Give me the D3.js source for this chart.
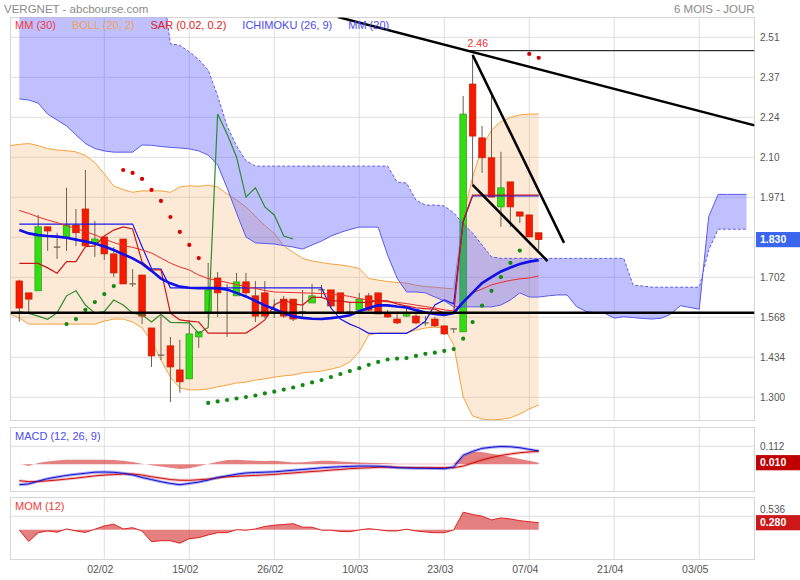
<!DOCTYPE html>
<html><head><meta charset="utf-8">
<script src="https://cdn.jsdelivr.net/npm/d3@7"></script>
<style>body{margin:0;background:#fff}svg{display:block;font-family:"Liberation Sans",Arial,sans-serif}</style>
</head><body><svg id="c" width="800" height="580"></svg>
<script>
// ---------- DATA ----------
const dateLabels = ["02/02","15/02","26/02","10/03","23/03","07/04","21/04","03/05"];
const dateIdx = [9,18,27,36,45,54,63,72];
const yTickValues = [1.3,1.4344,1.5689,1.7033,1.9722,2.1067,2.2411,2.3756,2.51];
const yTickLabels = ["1.300","1.434","1.568","1.702","1.971","2.10","2.24","2.37","2.51"];
const legendItems = [["MM (30)","#f23c3c"],["BOLL (20, 2)","#f0a050"],["SAR (0.02, 0.2)","#dd2222"],["ICHIMOKU (26, 9)","#4a4aee"],["MM (20)","#4a4aee"]];

const openP  = [1.691,1.651,1.658,1.873,1.805,1.839,1.879,1.933,1.819,1.839,1.782,1.832,1.681,1.711,1.533,1.442,1.473,1.392,1.362,1.503,1.587,1.701,1.583,1.641,1.688,1.641,1.651,1.587,1.630,1.630,1.587,1.617,1.661,1.661,1.651,1.587,1.593,1.641,1.651,1.583,1.563,1.573,1.573,1.550,1.563,1.540,1.530,1.520,2.353,2.172,2.105,1.940,2.024,1.923,1.913,1.853];
const highP  = [1.695,1.651,1.913,1.873,1.853,2.004,1.933,2.064,1.893,1.839,1.805,1.832,1.731,1.711,1.533,1.583,1.503,1.493,1.560,1.520,1.752,1.721,1.681,1.718,1.718,1.691,1.691,1.630,1.641,1.630,1.661,1.681,1.678,1.661,1.651,1.617,1.651,1.651,1.651,1.593,1.587,1.604,1.583,1.573,1.570,1.540,1.530,2.313,2.451,2.212,2.323,2.125,2.024,1.923,1.913,1.853];
const lowP   = [1.554,1.583,1.658,1.792,1.765,1.792,1.808,1.809,1.772,1.762,1.704,1.681,1.671,1.546,1.402,1.425,1.284,1.315,1.362,1.466,1.567,1.570,1.503,1.641,1.638,1.553,1.567,1.567,1.567,1.556,1.570,1.617,1.637,1.600,1.580,1.580,1.593,1.590,1.580,1.567,1.546,1.570,1.546,1.540,1.536,1.510,1.516,1.520,2.014,2.054,1.973,1.873,1.873,1.886,1.839,1.795];
const closeP = [1.600,1.630,1.873,1.859,1.805,1.879,1.853,1.809,1.832,1.782,1.718,1.681,1.681,1.573,1.439,1.442,1.402,1.352,1.513,1.520,1.661,1.651,1.583,1.688,1.651,1.573,1.573,1.587,1.573,1.563,1.587,1.641,1.661,1.607,1.583,1.587,1.630,1.593,1.580,1.570,1.550,1.583,1.550,1.550,1.540,1.513,1.530,2.252,2.178,2.105,1.973,2.004,1.940,1.909,1.839,1.830];

const mm30 = [1.928,1.918,1.906,1.896,1.887,1.877,1.867,1.857,1.846,1.832,1.820,1.810,1.804,1.795,1.785,1.768,1.751,1.738,1.728,1.711,1.699,1.693,1.686,1.679,1.672,1.666,1.659,1.654,1.653,1.652,1.651,1.650,1.649,1.646,1.644,1.639,1.632,1.626,1.624,1.621,1.619,1.615,1.610,1.605,1.600,1.594,1.590,1.620,1.651,1.664,1.678,1.686,1.693,1.698,1.701,1.708];
const mm20 = [1.862,1.851,1.845,1.842,1.840,1.836,1.830,1.824,1.817,1.807,1.795,1.781,1.767,1.749,1.725,1.699,1.683,1.672,1.668,1.667,1.667,1.667,1.662,1.651,1.639,1.624,1.609,1.597,1.583,1.572,1.567,1.564,1.563,1.566,1.570,1.576,1.589,1.600,1.609,1.609,1.605,1.602,1.593,1.585,1.580,1.577,1.583,1.620,1.652,1.684,1.704,1.723,1.736,1.748,1.756,1.761];
// Bollinger bands start one period before the first candle
const bollUp  = [2.146,2.150,2.153,2.146,2.136,2.131,2.129,2.125,2.113,2.089,2.051,2.010,1.998,1.989,1.994,1.994,1.994,1.989,2.007,2.011,2.009,2.013,2.007,1.984,1.963,1.940,1.909,1.877,1.851,1.809,1.787,1.767,1.758,1.753,1.748,1.745,1.740,1.733,1.699,1.694,1.689,1.686,1.684,1.677,1.672,1.670,1.667,1.664,1.906,2.040,2.141,2.198,2.226,2.241,2.249,2.252,2.252];
const bollLow = [1.580,1.567,1.546,1.546,1.546,1.546,1.546,1.546,1.546,1.546,1.556,1.563,1.563,1.553,1.533,1.489,1.425,1.368,1.331,1.325,1.325,1.328,1.335,1.341,1.348,1.351,1.358,1.362,1.368,1.372,1.375,1.382,1.385,1.388,1.395,1.402,1.419,1.453,1.509,1.516,1.516,1.516,1.516,1.526,1.533,1.536,1.533,1.476,1.301,1.237,1.227,1.224,1.226,1.231,1.244,1.261,1.274];

const tenkan = [1.750,1.750,1.750,1.735,1.717,1.756,1.756,1.806,1.809,1.842,1.862,1.873,1.866,1.755,1.728,1.728,1.583,1.560,1.556,1.553,1.516,1.516,1.516,1.516,1.516,1.536,1.560,1.610,1.627,1.614,1.610,1.636,1.636,1.624,1.624,1.619,1.619,1.619,1.625,1.624,1.614,1.607,1.601,1.598,1.596,1.583,1.583,1.894,1.980,1.980,1.980,1.980,1.980,1.980,1.980,1.980];
const kijun  = [1.882,1.882,1.882,1.882,1.882,1.882,1.882,1.882,1.882,1.882,1.882,1.882,1.882,1.806,1.733,1.731,1.668,1.668,1.668,1.668,1.668,1.668,1.668,1.668,1.668,1.668,1.668,1.668,1.668,1.668,1.668,1.668,1.668,1.600,1.563,1.546,1.533,1.515,1.515,1.515,1.515,1.515,1.533,1.556,1.610,1.627,1.614,1.890,1.977,1.977,1.977,1.977,1.977,1.977,1.977,1.977];
const chikou = [1.588,1.582,1.573,1.562,1.584,1.641,1.658,1.610,1.583,1.588,1.627,1.610,1.583,1.577,1.553,1.579,1.552,1.551,1.550,1.515,1.535,2.252,2.185,2.108,1.973,2.004,1.940,1.913,1.842,1.832];
const senkouA = [2.303,2.299,2.289,2.252,2.232,2.212,2.182,2.153,2.136,2.128,2.124,2.124,2.124,2.148,2.147,2.143,2.140,2.138,2.135,2.128,2.114,2.081,2.004,1.920,1.839,1.819,1.817,1.815,1.810,1.805,1.798,1.812,1.825,1.842,1.854,1.864,1.872,1.872,1.872,1.778,1.701,1.654,1.654,1.651,1.637,1.624,1.604,1.604,1.604,1.604,1.604,1.610,1.627,1.651,1.637,1.637,1.641,1.644,1.644,1.605,1.589,1.583,1.582,1.566,1.571,1.568,1.565,1.563,1.566,1.580,1.608,1.602,1.596,1.907,1.982,1.982,1.982,1.982];
const senkouB = [2.72,2.72,2.72,2.72,2.72,2.72,2.72,2.72,2.72,2.72,2.72,2.72,2.72,2.72,2.72,2.72,2.488,2.483,2.461,2.435,2.400,2.313,2.212,2.145,2.095,2.077,2.077,2.077,2.077,2.077,2.077,2.077,2.077,2.077,2.077,2.077,2.077,2.077,2.077,2.077,2.024,2.020,1.963,1.946,1.946,1.943,1.920,1.883,1.852,1.812,1.772,1.767,1.767,1.767,1.767,1.767,1.767,1.767,1.767,1.767,1.767,1.767,1.767,1.767,1.767,1.677,1.674,1.670,1.670,1.670,1.670,1.670,1.670,1.795,1.865,1.865,1.865,1.865];
const sar = [null,null,null,null,null,1.546,1.563,1.594,1.620,1.647,1.674,2.064,2.054,2.034,1.997,1.960,1.906,1.856,1.812,1.768,1.281,1.286,1.291,1.296,1.301,1.306,1.313,1.319,1.326,1.333,1.341,1.350,1.358,1.368,1.378,1.388,1.398,1.409,1.419,1.427,1.430,1.432,1.439,1.446,1.450,1.456,1.462,1.497,1.553,1.608,1.658,1.704,1.752,1.793,2.454,2.441];

const macd   = [-0.127,-0.122,-0.105,-0.089,-0.079,-0.069,-0.062,-0.056,-0.049,-0.048,-0.050,-0.056,-0.066,-0.082,-0.095,-0.108,-0.119,-0.127,-0.119,-0.111,-0.098,-0.082,-0.072,-0.062,-0.054,-0.051,-0.049,-0.047,-0.042,-0.037,-0.032,-0.027,-0.022,-0.018,-0.015,-0.013,-0.011,-0.011,-0.012,-0.016,-0.021,-0.023,-0.024,-0.025,-0.026,-0.027,-0.017,0.056,0.080,0.099,0.106,0.111,0.109,0.103,0.093,0.083];
const signal = [-0.102,-0.108,-0.107,-0.103,-0.098,-0.092,-0.086,-0.079,-0.072,-0.067,-0.064,-0.061,-0.060,-0.067,-0.077,-0.086,-0.095,-0.099,-0.100,-0.096,-0.092,-0.085,-0.078,-0.075,-0.072,-0.069,-0.066,-0.063,-0.058,-0.054,-0.049,-0.045,-0.041,-0.036,-0.032,-0.027,-0.024,-0.022,-0.019,-0.017,-0.018,-0.020,-0.021,-0.021,-0.021,-0.021,-0.021,-0.011,0.008,0.027,0.042,0.055,0.064,0.072,0.077,0.081];
const hist   = [0.004,-0.010,0.008,0.018,0.024,0.028,0.028,0.029,0.029,0.029,0.027,0.022,0.014,0.004,-0.006,-0.014,-0.022,-0.030,-0.024,-0.012,0.002,0.016,0.026,0.028,0.025,0.022,0.021,0.022,0.018,0.011,0.012,0.018,0.022,0.022,0.018,0.014,0.011,0.010,0.008,0.006,0.004,0.004,0.003,0.003,0.003,0.003,0.004,0.050,0.078,0.076,0.066,0.056,0.046,0.033,0.022,0.010];
const mom    = [-0.01,-0.47,-0.12,-0.05,-0.10,0.03,-0.05,-0.11,0.02,0.15,0.22,0.03,0.08,-0.05,-0.48,-0.44,-0.44,-0.54,-0.36,-0.32,-0.21,-0.12,-0.12,0.00,-0.02,0.03,0.13,0.18,0.21,0.24,0.10,0.10,-0.02,-0.02,-0.07,-0.08,-0.01,0.04,0.00,-0.05,-0.05,0.02,-0.05,-0.09,-0.12,-0.12,-0.01,0.70,0.61,0.54,0.39,0.47,0.43,0.36,0.32,0.28];

// annotations (index, price)
const trendLines = [[33.75,2.578,77.85,2.214],[48,2.451,57.68,1.819],[48,2.014,55.93,1.758]];
const resistance = 2.465, support = 1.584;
const lastPrice = 1.830, lastHist = 0.010, lastMom = 0.280;
const macdRef = 0.112, momRef = 0.536;

// ---------- CHART ----------
const svg = d3.select("#c");
const L = 10.5, R = 754.5;
const P = {main:[17.5,420.5], macd:[427.5,491.5], mom:[497.5,559.5]};
const x = d3.scaleLinear().domain([-0.932,77.85]).range([L,R]);
const y = d3.scaleLinear().domain([1.3,2.51]).range([397.3,37.3]);
const yM = d3.scaleLinear().domain([0,0.112]).range([464.3,446.3]);
const yO = d3.scaleLinear().domain([0,0.536]).range([529.7,516.3]);
const grid = "#dedede";

const defs = svg.append("defs");
Object.entries(P).forEach(([k,[t,b]])=>{
  defs.append("clipPath").attr("id","clip-"+k).append("rect").attr("x",L).attr("y",t).attr("width",R-L).attr("height",b-t);
});

// titles
svg.append("text").attr("x",4).attr("y",12.5).attr("font-size",11.5).attr("fill","#8a8a8a").text("VERGNET - abcbourse.com");
svg.append("text").attr("x",R).attr("y",12.5).attr("text-anchor","end").attr("font-size",11.5).attr("fill","#8a8a8a").text("6 MOIS - JOUR");

// grids + borders
Object.entries(P).forEach(([k,[t,b]])=>{
  const g = svg.append("g");
  g.selectAll("line.v").data(dateIdx).join("line").attr("x1",d=>x(d)).attr("x2",d=>x(d)).attr("y1",t).attr("y2",b).attr("stroke",grid);
  let hv = k==="main" ? yTickValues.concat([1.8378]).map(v=>y(v)) : k==="macd" ? [yM(macdRef)] : [yO(momRef)];
  g.selectAll("line.h").data(hv).join("line").attr("x1",L).attr("x2",R).attr("y1",d=>d).attr("y2",d=>d).attr("stroke",grid);
  g.append("rect").attr("x",L).attr("y",t).attr("width",R-L).attr("height",b-t).attr("fill","none").attr("stroke","#d6d6d6");
});

// ---- main panel ----
const gm = svg.append("g").attr("clip-path","url(#clip-main)");
const idx = d3.range(56);
gm.append("path").datum(bollUp).attr("fill","rgba(245,170,90,0.25)")
  .attr("d", d3.area().x((d,k)=>x(k-1)).y0((d,k)=>y(bollLow[k])).y1(d=>y(d)));
const lineIdx = (arr,off=0)=>d3.line().x((d,k)=>x(k+off)).y(d=>y(d))(arr);
gm.append("path").attr("d",lineIdx(bollUp,-1)).attr("fill","none").attr("stroke","#f5a23e").attr("stroke-width",1);
gm.append("path").attr("d",lineIdx(bollLow,-1)).attr("fill","none").attr("stroke","#f5a23e").attr("stroke-width",1);

// candles
const candles = idx.map(i=>({i,o:openP[i],h:highP[i],l:lowP[i],c:closeP[i]}));
const cw = 6.6;
gm.selectAll("line.wick").data(candles).join("line").attr("class","wick")
  .attr("x1",d=>x(d.i)).attr("x2",d=>x(d.i)).attr("y1",d=>y(d.h)).attr("y2",d=>y(d.l))
  .attr("stroke","#6e6050").attr("stroke-width",1);
gm.selectAll("rect.body").data(candles.filter(d=>d.o!==d.c)).join("rect").attr("class","body")
  .attr("x",d=>x(d.i)-cw/2).attr("width",cw)
  .attr("y",d=>y(Math.max(d.o,d.c))).attr("height",d=>Math.max(1,Math.abs(y(d.o)-y(d.c))))
  .attr("fill",d=>d.c>d.o?"#33dd11":"#f51a00").attr("stroke",d=>d.c>d.o?"#2a9a1a":"#c02000").attr("stroke-width",0.7);
gm.selectAll("line.doji").data(candles.filter(d=>d.o===d.c)).join("line").attr("class","doji")
  .attr("x1",d=>x(d.i)-cw/2).attr("x2",d=>x(d.i)+cw/2).attr("y1",d=>y(d.o)).attr("y2",d=>y(d.o))
  .attr("stroke","#6e6050").attr("stroke-width",1.2);

// ichimoku cloud
const cIdx = d3.range(senkouA.length);
gm.append("path").datum(cIdx).attr("fill","rgba(80,80,255,0.36)")
  .attr("d", d3.area().x(i=>x(i)).y0(i=>y(senkouA[i])).y1(i=>y(senkouB[i])));
gm.append("path").attr("d",lineIdx(senkouA)).attr("fill","none").attr("stroke","#5a5aee").attr("stroke-width",1);
gm.append("path").attr("d",lineIdx(senkouB)).attr("fill","none").attr("stroke","#5a5aee").attr("stroke-width",1).attr("stroke-dasharray","3,2");

// lines
gm.append("path").attr("d",lineIdx(chikou)).attr("fill","none").attr("stroke","#2e8b2e").attr("stroke-width",1.2);
gm.append("path").attr("d",lineIdx(kijun)).attr("fill","none").attr("stroke","#1a1aee").attr("stroke-width",1.2);
gm.append("path").attr("d",lineIdx(mm30)).attr("fill","none").attr("stroke","#ee2a2a").attr("stroke-width",1);
gm.append("path").attr("d",lineIdx(tenkan)).attr("fill","none").attr("stroke","#cc1818").attr("stroke-width",1.2);
gm.append("path").attr("d",lineIdx(mm20)).attr("fill","none").attr("stroke","#1010e8").attr("stroke-width",2.6);

// SAR
const sarPts = idx.filter(i=>sar[i]!==null).map(i=>({i,v:sar[i],up:sar[i]<closeP[i]}));
gm.selectAll("circle.sar").data(sarPts).join("circle").attr("class","sar")
  .attr("cx",d=>x(d.i)).attr("cy",d=>y(d.v)).attr("r",2.1)
  .attr("fill",d=>d.up?"#138a13":"#d80000");

// trend lines
gm.selectAll("line.trend").data(trendLines).join("line").attr("class","trend")
  .attr("x1",d=>x(d[0])).attr("y1",d=>y(d[1])).attr("x2",d=>x(d[2])).attr("y2",d=>y(d[3]))
  .attr("stroke","#000").attr("stroke-width",2.5);
gm.append("line").attr("x1",x(47.5)).attr("x2",x(77.85)).attr("y1",y(resistance)).attr("y2",y(resistance)).attr("stroke","#000").attr("stroke-width",1);
gm.append("line").attr("x1",L).attr("x2",R).attr("y1",y(support)).attr("y2",y(support)).attr("stroke","#000").attr("stroke-width",2.5);
gm.append("text").attr("x",x(48.55)).attr("y",y(resistance)-3.5).attr("text-anchor","middle").attr("font-size",10.5).attr("fill","#f03030").text("2.46");

// legend
let lx = 15;
legendItems.forEach(([t,c])=>{
  const tx = svg.append("text").attr("x",lx).attr("y",29).attr("font-size",11).attr("fill",c).text(t);
  lx += tx.node().getComputedTextLength() + 16;
});

// right axis main
const ax = svg.append("g").attr("transform",`translate(${R},0)`)
  .call(d3.axisRight(y).tickValues(yTickValues).tickFormat((d,i)=>yTickLabels[i]).tickSize(0).tickPadding(5.5));
ax.select(".domain").remove();
ax.selectAll("text").attr("font-size",10).attr("fill","#555").attr("font-family",null);

// ---- MACD panel ----
const gmc = svg.append("g").attr("clip-path","url(#clip-macd)");
gmc.append("path").datum(hist).attr("fill","rgba(215,60,60,0.65)")
  .attr("d", d3.area().x((d,i)=>x(i)).y0(yM(0)).y1(d=>yM(d)));
const lm = (arr)=>d3.line().x((d,i)=>x(i)).y(d=>yM(d))(arr);
gmc.append("path").attr("d",lm(signal)).attr("fill","none").attr("stroke","rgba(220,60,60,0.35)").attr("stroke-width",3);
gmc.append("path").attr("d",lm(macd)).attr("fill","none").attr("stroke","rgba(70,70,235,0.45)").attr("stroke-width",3);
gmc.append("path").attr("d",lm(signal)).attr("fill","none").attr("stroke","#cc1010").attr("stroke-width",1);
gmc.append("path").attr("d",lm(macd)).attr("fill","none").attr("stroke","#1010cc").attr("stroke-width",1);
svg.append("text").attr("x",15).attr("y",440).attr("font-size",11).attr("fill","#4a4aee").text("MACD (12, 26, 9)");
svg.append("text").attr("x",760).attr("y",yM(macdRef)).attr("dy","0.35em").attr("font-size",10).attr("fill","#555").text("0.112");

// ---- MOM panel ----
const gmo = svg.append("g").attr("clip-path","url(#clip-mom)");
gmo.append("path").datum(mom).attr("fill","rgba(215,60,60,0.65)")
  .attr("d", d3.area().x((d,i)=>x(i)).y0(yO(0)).y1(d=>yO(d)));
gmo.append("path").attr("d",d3.line().x((d,i)=>x(i)).y(d=>yO(d))(mom)).attr("fill","none").attr("stroke","#dd2020").attr("stroke-width",1);
svg.append("text").attr("x",15).attr("y",509.5).attr("font-size",11).attr("fill","#ee3a3a").text("MOM (12)");
// reference label sits just above the current-value box
svg.append("text").attr("x",760).attr("y",yO(momRef)-7).attr("dy","0.35em").attr("font-size",10).attr("fill","#555").text("0.536");

// value boxes
function box(cy,color,txt){
  svg.append("rect").attr("x",756).attr("y",cy-7.6).attr("width",44).attr("height",15.2).attr("fill",color);
  svg.append("text").attr("x",760).attr("y",cy).attr("dy","0.36em").attr("font-size",10.5).attr("font-weight","bold").attr("fill","#fff").text(txt);
}
box(y(lastPrice),"#3a66ee",lastPrice.toFixed(3));
box(yM(lastHist),"#c00000",lastHist.toFixed(3));
box(yO(lastMom),"#cc1818",lastMom.toFixed(3));

// date axis
const dx = svg.append("g").attr("transform","translate(-4.5,563)")
  .call(d3.axisBottom(x).tickValues(dateIdx).tickFormat((d,i)=>dateLabels[i]).tickSize(0).tickPadding(3));
dx.select(".domain").remove();
dx.selectAll("text").attr("font-size",10.5).attr("fill","#555").attr("font-family",null);
</script></body></html>
